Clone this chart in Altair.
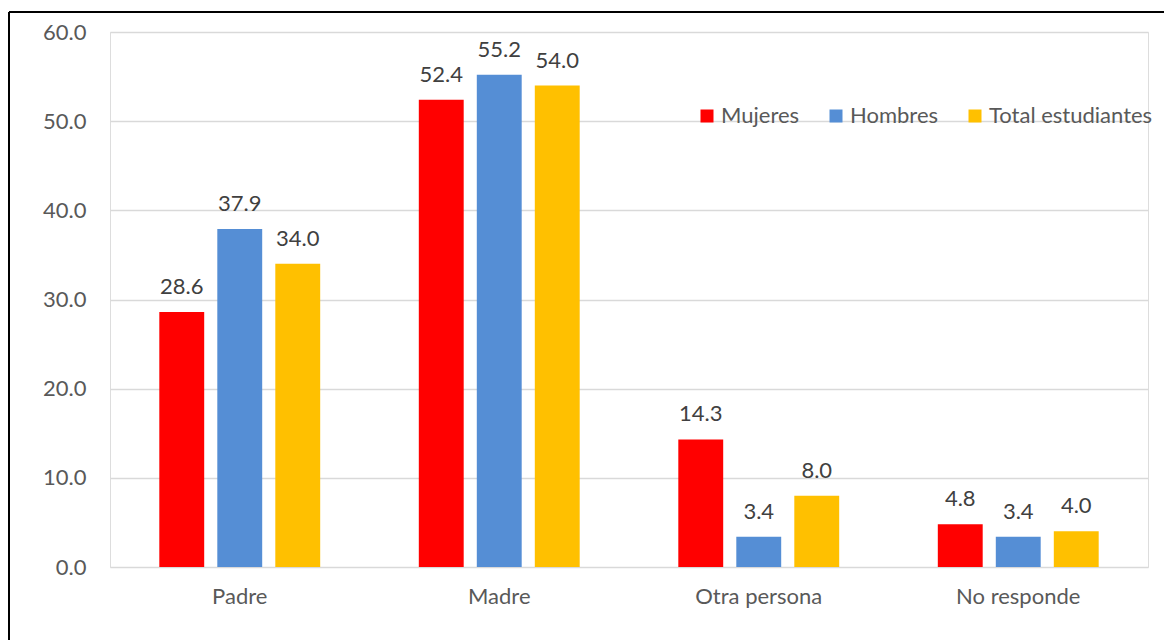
import altair as alt
import pandas as pd

categories = ["Padre", "Madre", "Otra persona", "No responde"]
series = ["Mujeres", "Hombres", "Total estudiantes"]
mujeres = [28.6, 52.4, 14.3, 4.8]
hombres = [37.9, 55.2, 3.4, 3.4]
total = [34.0, 54.0, 8.0, 4.0]
colors = ["#FF0000", "#558ED5", "#FFC000"]

rows = []
for i, c in enumerate(categories):
    for s, vals in zip(series, [mujeres, hombres, total]):
        rows.append({"cat": c, "serie": s, "val": vals[i]})
df = pd.DataFrame(rows)

FONT = "Lato"
FS = 22
W, H = 1038, 535

x = alt.X("cat:N", sort=categories, title=None,
          scale=alt.Scale(paddingInner=0.38, paddingOuter=0.19),
          axis=alt.Axis(labelAngle=0, labelFont=FONT, labelFontSize=FS, labelColor="#595959",
                        labelPadding=19, ticks=False, domain=False, grid=False))
xo = alt.XOffset("serie:N", sort=series, scale=alt.Scale(paddingInner=0.226, paddingOuter=0))
y = alt.Y("val:Q", title=None, scale=alt.Scale(domain=[0, 60], nice=False),
          axis=alt.Axis(values=[0, 10, 20, 30, 40, 50, 60], format=".1f", labelFont=FONT,
                        labelFontSize=FS, labelColor="#595959", labelPadding=24,
                        ticks=False, domain=False, gridColor="#D9D9D9", gridWidth=1.5))
color = alt.Color("serie:N", sort=series, title=None,
                  scale=alt.Scale(domain=series, range=colors),
                  legend=alt.Legend(orient="none", legendX=586, legendY=73, direction="horizontal",
                                    symbolType="square", symbolSize=169, symbolStrokeWidth=0,
                                    labelFont=FONT, labelFontSize=FS, labelColor="#595959",
                                    labelLimit=400, labelOffset=3, columnPadding=25,
                                    symbolOpacity=1))

bars = alt.Chart(df).mark_bar(opacity=1).encode(x=x, xOffset=xo, y=y, color=color)
labels = alt.Chart(df).mark_text(font=FONT, fontSize=FS, color="#404040", baseline="alphabetic",
                                 dy=-18).encode(x=x, xOffset=xo, y=y, text=alt.Text("val:Q", format=".1f"))

left_border = alt.Chart(df).mark_rule(color="#000000", strokeWidth=2).encode(
    x=alt.value(-101), y=alt.value(-20), y2=alt.value(H + 200))
top_border = alt.Chart(df).mark_rule(color="#000000", strokeWidth=2).encode(
    x=alt.value(-101), x2=alt.value(W + 200), y=alt.value(-20))

chart = alt.layer(bars, labels, left_border, top_border).properties(
    width=W, height=H,
    autosize=alt.AutoSizeParams(type="none"),
    padding={"left": 102, "top": 24, "right": 16, "bottom": 73},
).configure_view(stroke=None).configure(background="white")

chart.save("out.html", embed_options={"renderer": "svg", "actions": False})
